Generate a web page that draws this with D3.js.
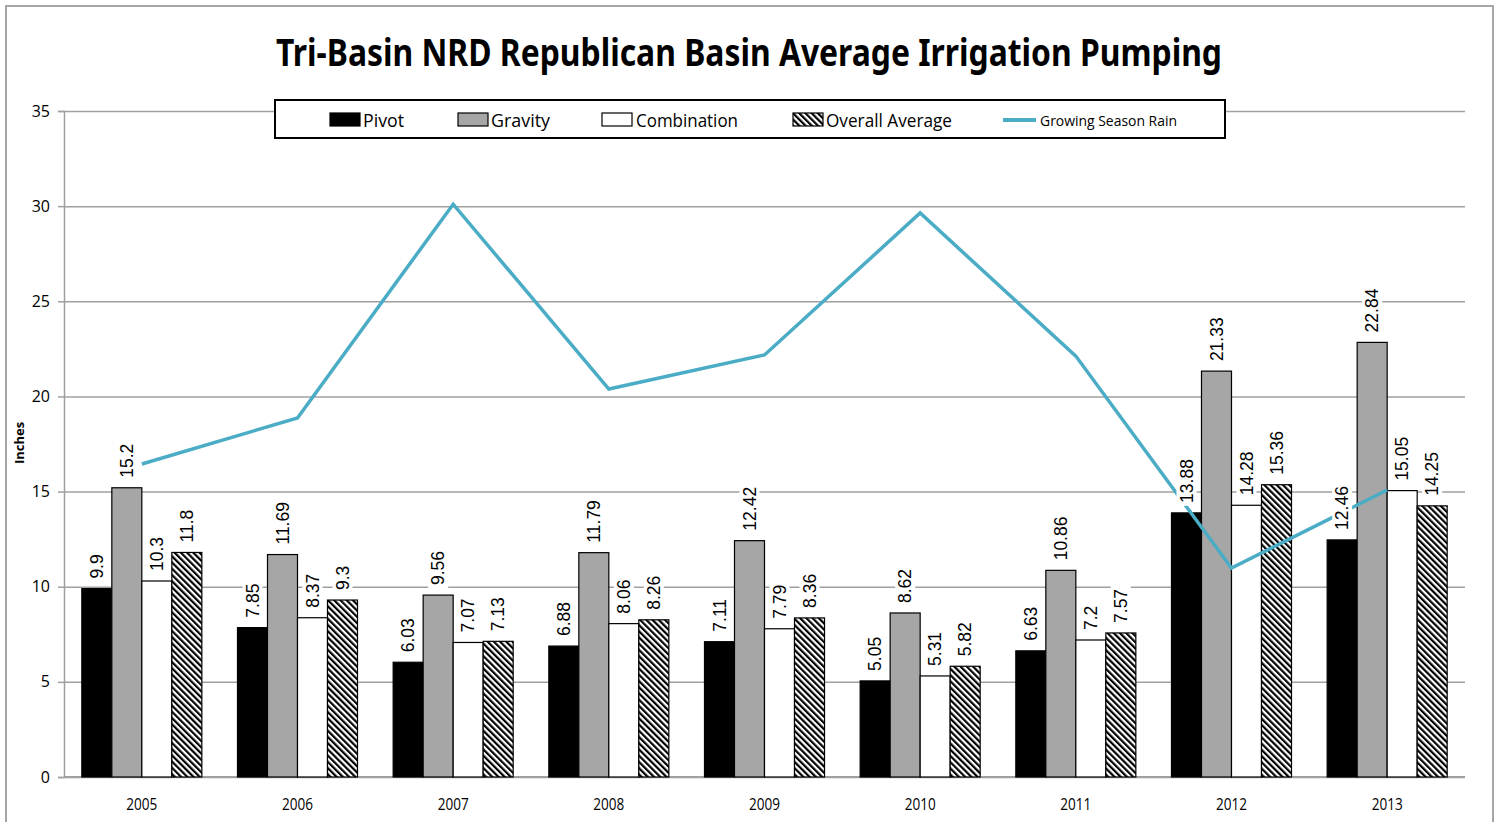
<!DOCTYPE html>
<html>
<head>
<meta charset="utf-8">
<script src="https://cdn.jsdelivr.net/npm/d3@7"></script>
<style>
  body { margin: 0; background: #fff; }
  svg { display: block; }
</style>
</head>
<body>
<div id="chart"></div>
<script>
const years = ['2005', '2006', '2007', '2008', '2009', '2010', '2011', '2012', '2013'];
const seriesNames = ['Pivot', 'Gravity', 'Combination', 'Overall Average'];
const pivot = [9.9, 7.85, 6.03, 6.88, 7.11, 5.05, 6.63, 13.88, 12.46];
const gravity = [15.2, 11.69, 9.56, 11.79, 12.42, 8.62, 10.86, 21.33, 22.84];
const combination = [10.3, 8.37, 7.07, 8.06, 7.79, 5.31, 7.2, 14.28, 15.05];
const overall = [11.8, 9.3, 7.13, 8.26, 8.36, 5.82, 7.57, 15.36, 14.25];
const rain = [16.45, 18.87, 30.1, 20.39, 22.18, 29.64, 22.12, 10.98, 15.08];
const yTicks = [0, 5, 10, 15, 20, 25, 30, 35];

const width = 1499;
const height = 822;
const area = { left: 64, right: 1465, top: 111, bottom: 777 };

const svg = d3.select('#chart')
  .append('svg')
  .attr('width', width)
  .attr('height', height);

const defs = svg.append('defs');
const hatch = defs.append('pattern')
  .attr('id', 'hatch')
  .attr('patternUnits', 'userSpaceOnUse')
  .attr('width', 4.4)
  .attr('height', 4.4)
  .attr('patternTransform', 'rotate(-45)');
hatch.append('rect').attr('width', 4.4).attr('height', 4.4).attr('fill', '#fff');
hatch.append('rect').attr('width', 2.2).attr('height', 4.4).attr('fill', '#000');

// outer frame
svg.append('rect')
  .attr('x', 6).attr('y', 6)
  .attr('width', 1487).attr('height', 830)
  .attr('fill', 'none')
  .attr('stroke', '#a6a6a6')
  .attr('stroke-width', 2);

svg.append('text')
  .attr('x', 749).attr('y', 66)
  .attr('text-anchor', 'middle')
  .attr('font-family', 'Noto Sans, sans-serif')
  .attr('font-weight', 'bold')
  .attr('font-size', 38)
  .attr('textLength', 946)
  .attr('lengthAdjust', 'spacingAndGlyphs')
  .text('Tri-Basin NRD Republican Basin Average Irrigation Pumping');

const x = d3.scaleBand().domain(years).range([area.left, area.right]);
const xInner = d3.scaleBand()
  .domain(seriesNames)
  .range([0, x.bandwidth()])
  .paddingOuter(0.594);
const y = d3.scaleLinear().domain([0, 35]).range([area.bottom, area.top]);

// gridlines
svg.append('g')
  .attr('transform', `translate(${area.left},0)`)
  .call(d3.axisLeft(y).tickValues(yTicks).tickFormat('').tickSize(-(area.right - area.left)))
  .call(g => g.select('.domain').remove())
  .call(g => g.selectAll('line').attr('stroke', '#a0a0a0').attr('stroke-width', 1.5));

// y axis
const yAxis = svg.append('g')
  .attr('transform', `translate(${area.left},0)`)
  .call(d3.axisLeft(y).tickValues(yTicks).tickSize(6).tickPadding(8));
yAxis.select('.domain').attr('stroke', '#a0a0a0').attr('stroke-width', 1.5);
yAxis.selectAll('line').attr('stroke', '#a0a0a0').attr('stroke-width', 1.5);
yAxis.selectAll('text')
  .attr('font-family', 'Open Sans, sans-serif')
  .attr('font-size', 16)
  .attr('fill', '#000');

// x axis baseline
svg.append('line')
  .attr('x1', area.left).attr('x2', area.right)
  .attr('y1', area.bottom).attr('y2', area.bottom)
  .attr('stroke', '#a0a0a0').attr('stroke-width', 2);

svg.append('g')
  .selectAll('text')
  .data(years)
  .join('text')
  .attr('x', d => x(d) + x.bandwidth() / 2)
  .attr('y', 810)
  .attr('text-anchor', 'middle')
  .attr('font-family', 'Open Sans, sans-serif')
  .attr('font-size', 15.5)
  .attr('textLength', 31)
  .attr('lengthAdjust', 'spacingAndGlyphs')
  .text(d => d);

svg.append('text')
  .attr('transform', 'translate(24,443) rotate(-90)')
  .attr('text-anchor', 'middle')
  .attr('font-family', 'Open Sans, sans-serif')
  .attr('font-weight', 'bold')
  .attr('font-size', 13)
  .text('Inches');

const seriesValues = [pivot, gravity, combination, overall];
const fills = ['#000', '#a6a6a6', '#fff', 'url(#hatch)'];

const bars = [];
years.forEach((yr, i) => {
  seriesNames.forEach((s, j) => {
    bars.push({ year: yr, series: s, value: seriesValues[j][i], fill: fills[j] });
  });
});

svg.append('g')
  .selectAll('rect')
  .data(bars)
  .join('rect')
  .attr('x', d => x(d.year) + xInner(d.series))
  .attr('y', d => y(d.value))
  .attr('width', xInner.bandwidth())
  .attr('height', d => y(0) - y(d.value))
  .attr('fill', d => d.fill)
  .attr('stroke', '#000')
  .attr('stroke-width', 1.2);

// rain line
const line = d3.line()
  .x((d, i) => x(years[i]) + x.bandwidth() / 2)
  .y(d => y(d));

svg.append('path')
  .datum(rain)
  .attr('d', line)
  .attr('fill', 'none')
  .attr('stroke', '#4bacc6')
  .attr('stroke-width', 3.5)
  .attr('stroke-linejoin', 'miter');

// data labels with white background
const labels = svg.append('g');
bars.forEach(d => {
  const cx = x(d.year) + xInner(d.series) + xInner.bandwidth() / 2;
  const by = y(d.value) - 10;
  const g = labels.append('g').attr('transform', `translate(${cx},${by}) rotate(-90)`);
  const bg = g.append('rect').attr('fill', '#fff');
  const t = g.append('text')
    .attr('x', 0)
    .attr('y', 0)
    .attr('dy', '0.36em')
    .attr('font-family', 'Liberation Sans, Arial, sans-serif')
    .attr('font-size', 17.5)
    .text(String(d.value));
  const len = t.node().getComputedTextLength();
  bg.attr('x', -3).attr('y', -10).attr('width', len + 6).attr('height', 20);
});

// legend
const legend = svg.append('g');
legend.append('rect')
  .attr('x', 275).attr('y', 100)
  .attr('width', 950).attr('height', 38)
  .attr('fill', '#fff')
  .attr('stroke', '#000')
  .attr('stroke-width', 2);

const legendItems = [
  { name: 'Pivot', sx: 330, tx: 363, tw: 41, fill: fills[0] },
  { name: 'Gravity', sx: 458, tx: 491, tw: 59, fill: fills[1] },
  { name: 'Combination', sx: 602, tx: 636, tw: 102, fill: fills[2] },
  { name: 'Overall Average', sx: 793, tx: 826, tw: 126, fill: fills[3] }
];

legendItems.forEach(d => {
  legend.append('rect')
    .attr('x', d.sx).attr('y', 113)
    .attr('width', 30).attr('height', 13)
    .attr('fill', d.fill)
    .attr('stroke', '#000')
    .attr('stroke-width', 1.2);
  legend.append('text')
    .attr('x', d.tx).attr('y', 127)
    .attr('font-family', 'Open Sans, sans-serif')
    .attr('font-size', 19)
    .attr('textLength', d.tw)
    .attr('lengthAdjust', 'spacingAndGlyphs')
    .text(d.name);
});

legend.append('line')
  .attr('x1', 1003).attr('x2', 1036)
  .attr('y1', 120).attr('y2', 120)
  .attr('stroke', '#4bacc6')
  .attr('stroke-width', 4);
legend.append('text')
  .attr('x', 1040).attr('y', 126)
  .attr('font-family', 'Open Sans, sans-serif')
  .attr('font-size', 15)
  .attr('textLength', 137)
  .attr('lengthAdjust', 'spacingAndGlyphs')
  .text('Growing Season Rain');
</script>
</body>
</html>
